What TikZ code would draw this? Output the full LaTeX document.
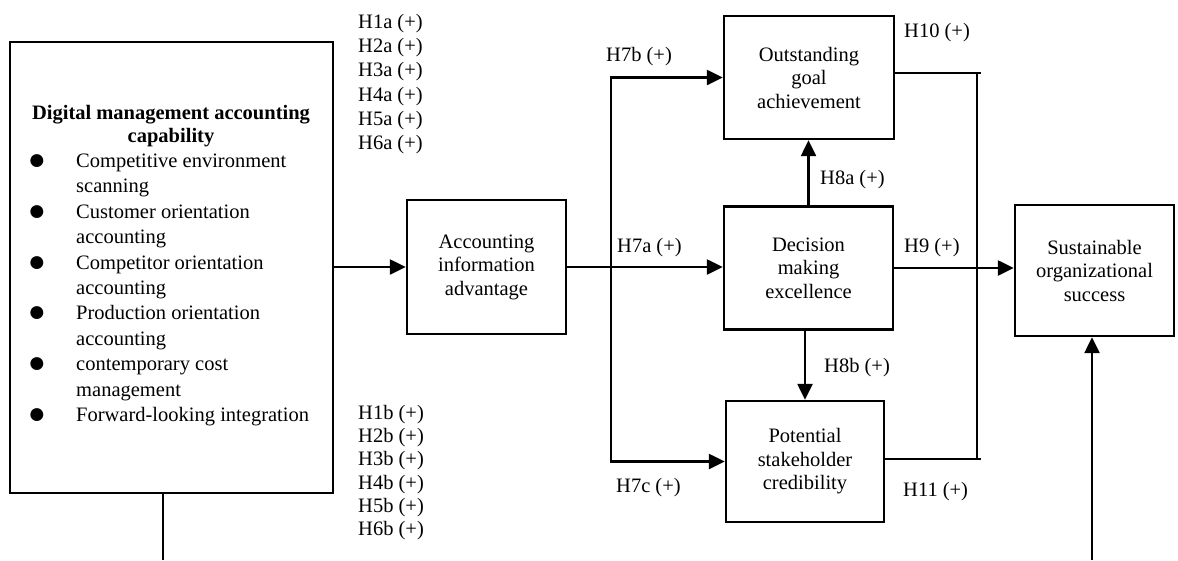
\documentclass[tikz,border=0pt]{standalone}
\usepackage{fontspec}
\setmainfont{Liberation Serif}
\usetikzlibrary{arrows.meta}
\begin{document}
\begin{tikzpicture}[x=1pt,y=-1pt]
\tikzset{
 box/.style={draw, line width=2.4pt, inner sep=0pt, align=center, font=\fontsize{20.5}{23.5}\selectfont},
 lab/.style={anchor=base west, inner sep=0pt, font=\fontsize{20.5}{24}\selectfont},
 ttl/.style={anchor=base, inner sep=0pt, font=\bfseries\fontsize{20.5}{23}\selectfont},
 bul/.style={anchor=center, inner sep=0pt, font=\fontsize{30}{30}\selectfont},
 conn/.style={line width=2.4pt},
 arr/.style={conn, -{Triangle[length=16pt,width=15pt]}},
}
\fill[white] (0,0) rectangle (1178,560);
\useasboundingbox (0,0) rectangle (1178,560);

% boxes
\node[box, minimum width=323pt, minimum height=451pt] (dmac) at (171.5,267.5) {};
\node[box, minimum width=159pt, minimum height=134pt] (acc) at (486.5,267) {Accounting\\information\\advantage};
\node[box, minimum width=170pt, minimum height=123pt] (out) at (809,77.5) {Outstanding\\goal\\achievement};
\node[box, minimum width=169pt, minimum height=123pt] (dec) at (808.5,268) {Decision\\making\\excellence};
\node[box, minimum width=158pt, minimum height=121pt] (pot) at (805,461.5) {Potential\\stakeholder\\credibility};
\node[box, minimum width=159pt, minimum height=131pt] (sus) at (1094.5,270.5) {Sustainable\\organizational\\success};

% content of the left box
\node[ttl] (t1) at (171,119.5) {Digital management accounting};
\node[ttl] (t2) at (171,142.5) {capability};
\node[bul] (b1) at (37,162) {●};
\node[bul] (b2) at (37,212.8) {●};
\node[bul] (b3) at (37,263.6) {●};
\node[bul] (b4) at (37,314.4) {●};
\node[bul] (b5) at (37,365.2) {●};
\node[bul] (b6) at (37,416) {●};
\node[lab] (l1) at (76,167.5) {Competitive environment};
\node[lab] (l2) at (76,192.9) {scanning};
\node[lab] (l3) at (76,218.3) {Customer orientation};
\node[lab] (l4) at (76,243.7) {accounting};
\node[lab] (l5) at (76,269.1) {Competitor orientation};
\node[lab] (l6) at (76,294.5) {accounting};
\node[lab] (l7) at (76,319.9) {Production orientation};
\node[lab] (l8) at (76,345.3) {accounting};
\node[lab] (l9) at (76,370.7) {contemporary cost};
\node[lab] (l10) at (76,396.1) {management};
\node[lab] (l11) at (76,421.5) {Forward-looking integration};

% hypothesis labels
\node[lab] (h1a) at (358,28.5) {H1a (+)};
\node[lab] (h2a) at (358,52.7) {H2a (+)};
\node[lab] (h3a) at (358,76.9) {H3a (+)};
\node[lab] (h4a) at (358,101.1) {H4a (+)};
\node[lab] (h5a) at (358,125.3) {H5a (+)};
\node[lab] (h6a) at (358,149.5) {H6a (+)};
\node[lab] (h1b) at (358,419.5) {H1b (+)};
\node[lab] (h2b) at (358,442.7) {H2b (+)};
\node[lab] (h3b) at (358,465.9) {H3b (+)};
\node[lab] (h4b) at (358,489.1) {H4b (+)};
\node[lab] (h5b) at (358,512.3) {H5b (+)};
\node[lab] (h6b) at (358,535.5) {H6b (+)};
\node[lab] (h7b) at (606,61.5) {H7b (+)};
\node[lab] (h7a) at (617,252.5) {H7a (+)};
\node[lab] (h7c) at (616,492.5) {H7c (+)};
\node[lab] (h8a) at (820,184.5) {H8a (+)};
\node[lab] (h8b) at (824,372.5) {H8b (+)};
\node[lab] (h9) at (904,252.5) {H9 (+)};
\node[lab] (h10) at (904,37.5) {H10 (+)};
\node[lab] (h11) at (903,496.5) {H11 (+)};

% connectors
\draw[arr] (dmac.east |- acc.west) -- (acc.west);
\draw[arr] (acc.east) -- (acc.east -| dec.west);
\coordinate (br) at (611,267);
\draw[arr] (br) |- (out.west);
\draw[arr] (br) |- (pot.west);
\draw[arr] (dec.north) -- (dec.north |- out.south);
\draw[arr] (pot.north |- dec.south) -- (pot.north);
\draw[arr] (dec.east) -- (dec.east -| sus.west);
\coordinate (ja) at (977,73);
\coordinate (jb) at (977,459);
\draw[conn] ([yshift=4.5pt]out.east) -- ++(86,0);
\draw[conn] ([yshift=2.5pt]pot.east) -- ++(96,0);
\draw[conn] (ja) -- (jb);
\coordinate (dmacEnd) at (163,560);
\draw[conn] (dmacEnd |- dmac.south) -- (dmacEnd);
\coordinate (susStart) at (1092,560);
\draw[arr] (susStart) -- (susStart |- sus.south);
\end{tikzpicture}
\end{document}
